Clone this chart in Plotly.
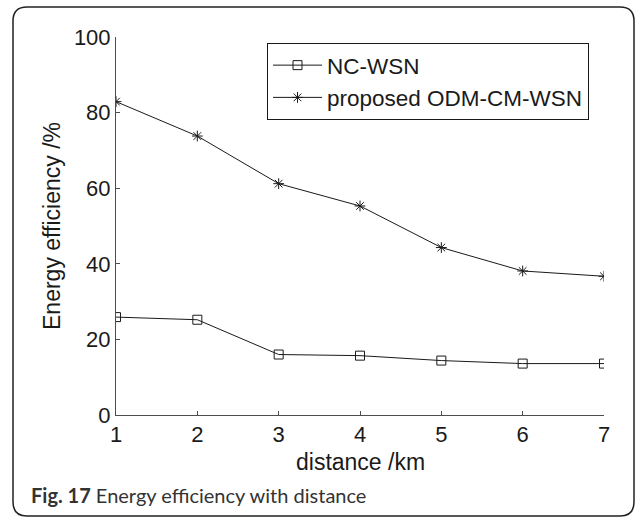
import plotly.graph_objects as go

# distance (km) on the x axis
distance_km = [1, 2, 3, 4, 5, 6, 7]

# energy efficiency (%) of each scheme
nc_wsn = [25.9, 25.2, 16.0, 15.7, 14.4, 13.6, 13.6]
odm_cm_wsn = [82.9, 73.8, 61.2, 55.3, 44.3, 38.1, 36.7]

series_names = ["NC-WSN", "proposed ODM-CM-WSN"]
x_ticks = [1, 2, 3, 4, 5, 6, 7]
y_ticks = [0, 20, 40, 60, 80, 100]

W, H = 635, 518
ML, MR, MT, MB = 116, 31, 37, 103
PW, PH = W - ML - MR, H - MT - MB

FONT = "Liberation Sans, Arial, Helvetica, sans-serif"
LINE = "#1a1a1a"
AXIS = "#4d4d4d"


def px2paper(px, py):
    return (px - ML) / PW, (H - MB - py) / PH


fig = go.Figure()
fig.add_trace(go.Scatter(
    x=distance_km, y=nc_wsn, name=series_names[0], mode="lines+markers",
    line=dict(color=LINE, width=1),
    marker=dict(symbol="square-open", size=9, color=LINE, line=dict(width=1, color=LINE)),
))
fig.add_trace(go.Scatter(
    x=distance_km, y=odm_cm_wsn, name=series_names[1], mode="lines+markers",
    line=dict(color=LINE, width=1),
    marker=dict(symbol="asterisk-open", size=9, color=LINE, line=dict(width=1, color=LINE)),
))

# rounded frame around figure and caption
L, R, T, B, r = 13, 634, 7, 516, 14
pts = [
    ("M", L + r, T), ("L", R - r, T), ("Q", R, T, R, T + r), ("L", R, B - r),
    ("Q", R, B, R - r, B), ("L", L + r, B), ("Q", L, B, L, B - r), ("L", L, T + r),
    ("Q", L, T, L + r, T),
]
path = ""
for p in pts:
    cmd = p[0]
    coords = p[1:]
    parts = []
    for i in range(0, len(coords), 2):
        xx, yy = px2paper(coords[i], coords[i + 1])
        parts.append(f"{xx:.5f},{yy:.5f}")
    path += cmd + " ".join(parts) + " "
path += "Z"
fig.add_shape(type="path", path=path, xref="paper", yref="paper",
              line=dict(color="#222222", width=1.5), layer="below")

# x axis title, placed just under the tick labels
tx, ty = px2paper(0, 447)
fig.add_annotation(
    x=0.5, y=ty, xref="paper", yref="paper", xanchor="center", yanchor="top",
    showarrow=False, text="distance /km",
    font=dict(family=FONT, size=23, color="#1a1a1a"),
)

cx, cy = px2paper(29, 495)
fig.add_annotation(
    x=cx, y=cy, xref="paper", yref="paper", xanchor="left", yanchor="middle",
    showarrow=False,
    text="<b>Fig. 17</b> Energy efficiency with distance",
    font=dict(family="Lato, Open Sans, sans-serif", size=20, color="#333333"),
)

lx, ly = px2paper(267, 43)
fig.update_layout(
    width=W, height=H,
    margin=dict(l=ML, r=MR, t=MT, b=MB, autoexpand=False),
    paper_bgcolor="white", plot_bgcolor="white",
    font=dict(family=FONT, size=22, color="#1a1a1a"),
    showlegend=True,
    legend=dict(
        x=lx, y=ly, xanchor="left", yanchor="top",
        bgcolor="white", bordercolor="#1a1a1a", borderwidth=1,
        font=dict(family=FONT, size=22.5, color="#1a1a1a"),
        itemwidth=49, tracegroupgap=0,
    ),
    xaxis=dict(
        range=[1, 7], tickmode="array", tickvals=x_ticks,
        showgrid=False, zeroline=False, showline=True, linecolor=AXIS, linewidth=1,
        ticks="inside", ticklen=4, tickcolor=AXIS,
        tickfont=dict(size=22),
    ),
    yaxis=dict(
        range=[0, 100], tickmode="array", tickvals=y_ticks,
        showgrid=False, zeroline=False, showline=True, linecolor=AXIS, linewidth=1,
        ticks="inside", ticklen=4, tickcolor=AXIS,
        title=dict(text="Energy efficiency /%", standoff=6,
                   font=dict(family=FONT, size=23, color="#1a1a1a")),
        tickfont=dict(size=22),
    ),
)

fig.write_html("out.html")
